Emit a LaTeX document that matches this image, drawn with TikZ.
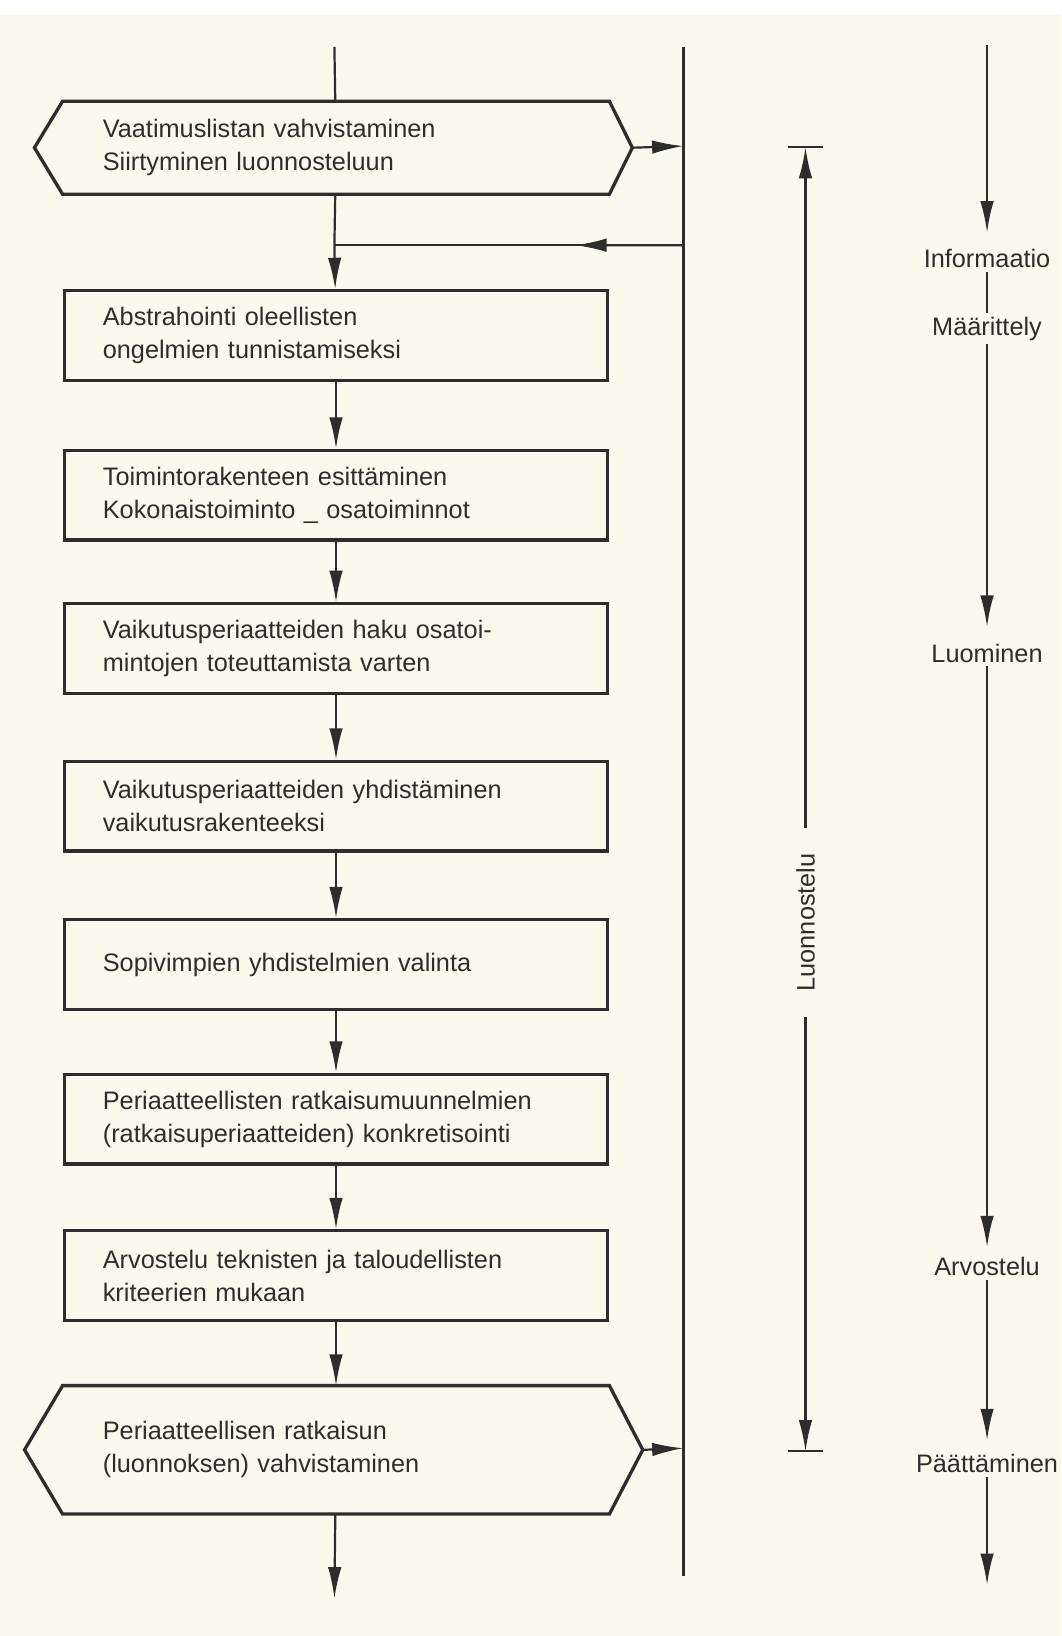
\documentclass[tikz,border=0pt]{standalone}
\usepackage{fontspec}
\setmainfont{Liberation Sans}
\usetikzlibrary{arrows.meta,calc}

\definecolor{paper}{RGB}{251,249,238}
\definecolor{ink}{RGB}{45,45,45}
\newcommand{\boxfont}{\fontsize{13.8}{18}\selectfont}

\tikzset{
  stepbox/.style={draw=ink, line width=1.8pt, rectangle, anchor=north west,
    minimum height=1.72cm, text width=8.94cm, inner xsep=0.74cm,
    align=left, font=\boxfont, text=ink},
  hexbody/.style={stepbox, draw=none},
  flow/.style={draw=ink, line width=1.2pt},
  arr/.style={flow, -{Latex[length=0.6cm,width=0.26cm]}},
  phase/.style={font=\boxfont, text=ink, inner sep=2pt},
}

\begin{document}
\begin{tikzpicture}[x=0.02cm, y=-0.02cm]
    \def \mx {320.5} % main flow line
    \def \rx {655}   % collecting line
    \def \lx {772}   % luonnostelu bar
    \def \px {946}   % phases
    \useasboundingbox (0,0) rectangle (1017,1568);
    \fill[paper] (0,0) rectangle (1017,1568);
    \fill[white] (0,0) rectangle (1017,14);

    % hexagons
    \node[hexbody] (h1) at (60,97) {Vaatimuslistan vahvistaminen\\Siirtyminen luonnosteluun};
    \draw[flow, line width=1.8pt] (h1.north west) -- (h1.north east)
      -- ([xshift=0.44cm]h1.east) coordinate (h1tip) -- (h1.south east)
      -- (h1.south west) -- ([xshift=-0.54cm]h1.west) -- cycle;
    \node[hexbody, minimum height=2.4cm] (h2) at (60,1328) {Periaatteellisen ratkaisun\\(luonnoksen) vahvistaminen};
    \draw[flow, line width=1.8pt] (h2.north west) -- (h2.north east)
      -- ([xshift=0.64cm]h2.east) coordinate (h2tip) -- (h2.south east)
      -- (h2.south west) -- ([xshift=-0.73cm]h2.west) -- cycle;

    % boxes
    \foreach \n/\ytop/\txt in {
      b2/277/{Abstrahointi oleellisten\\ongelmien tunnistamiseksi},
      b3/430/{Toimintorakenteen esittäminen\\Kokonaistoiminto \_ osatoiminnot},
      b4/577/{Vaikutusperiaatteiden haku osatoi-\\mintojen toteuttamista varten},
      b5/728/{Vaikutusperiaatteiden yhdistäminen\\vaikutusrakenteeksi},
      b6/880/{Sopivimpien yhdistelmien valinta},
      b7/1028/{Periaatteellisten ratkaisumuunnelmien\\(ratkaisuperiaatteiden) konkretisointi},
      b8/1178/{Arvostelu teknisten ja taloudellisten\\kriteerien mukaan}}
    {
      \node[stepbox] (\n) at (60,\ytop) {\txt};
    }

    % main flow
    \coordinate (mtop) at (\mx,45);
    \coordinate (j1) at (\mx,235);
    \coordinate (mbot) at (\mx,1532);
    \draw[flow] (mtop) -- (h1);
    \draw[flow] (h1) -- (j1);
    \draw[arr] (j1) -- (b2);
    \foreach \a/\b in {b2/b3,b3/b4,b4/b5,b5/b6,b6/b7,b7/b8,b8/h2}
      \draw[arr] (\a) -- (\b);
    \draw[arr] (h2) -- (mbot);

    % collecting line and feedback
    \coordinate (rtop) at (\rx,45);
    \coordinate (rbot) at (\rx,1510);
    \coordinate (r1) at (\rx,140);
    \coordinate (r2) at (\rx,1388);
    \coordinate (fb) at (\rx,235);
    \draw[flow] (rtop) -- (rbot);
    \draw[arr] (h1tip) -- (r1);
    \draw[arr] (h2tip) -- (r2);
    \draw[flow] (fb) -- (j1);
    \draw[arr] (fb) -- ($(fb)!0.31!(j1)$);

    % luonnostelu span
    \coordinate (lt) at (\lx,141);
    \coordinate (lb) at (\lx,1391);
    \node[phase, rotate=90, inner xsep=0.48cm] (lab) at (\lx,884) {Luonnostelu};
    \draw[arr] (lab) -- (lt);
    \draw[arr] (lab) -- (lb);
    \draw[flow] ([xshift=-0.34cm]lt) -- ([xshift=0.34cm]lt);
    \draw[flow] ([xshift=-0.34cm]lb) -- ([xshift=0.34cm]lb);

    % phases
    \coordinate (ptop) at (\px,43);
    \node[phase] (info) at (\px,248) {Informaatio};
    \node[phase] (maar) at (\px,315) {Määrittely};
    \node[phase] (luom) at (\px,626) {Luominen};
    \node[phase] (arvo) at (\px,1214) {Arvostelu};
    \node[phase] (paat) at (\px,1403) {Päättäminen};
    \coordinate (pend) at (\px,1519);
    \draw[arr, shorten >=0.25cm] (ptop) -- (info);
    \draw[flow] (info) -- (maar);
    \draw[arr, shorten >=0.25cm] (maar) -- (luom);
    \draw[arr, shorten >=0.12cm] (luom) -- (arvo);
    \draw[arr, shorten >=0.2cm] (arvo) -- (paat);
    \draw[arr] (paat) -- (pend);
\end{tikzpicture}
\end{document}
